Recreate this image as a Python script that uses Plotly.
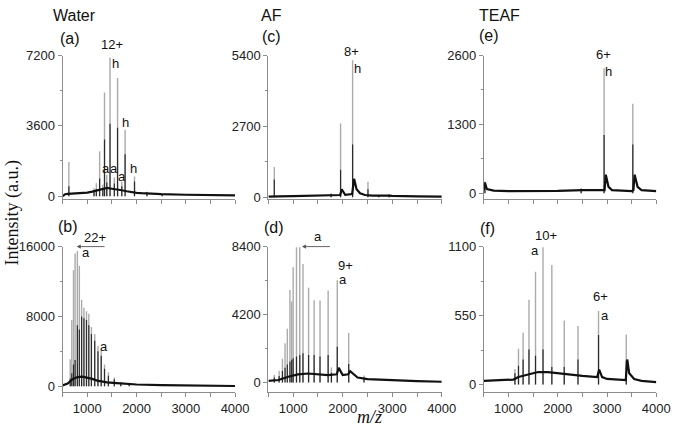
import plotly.graph_objects as go

# ---------------- data ----------------
MZ_TICKS = [1000, 2000, 3000, 4000]
MZ_LABELS = ["1000", "2000", "3000", "4000"]
MZ_MINOR = [500, 1500, 2500, 3500]

COLUMN_TITLES = ["Water", "AF", "TEAF"]
PANEL_LETTERS = ["(a)", "(c)", "(e)", "(b)", "(d)", "(f)"]

# (a) Water, top
a_peak_mz = [625, 1136, 1183, 1250, 1315, 1349, 1395, 1461, 1548, 1614, 1700, 1767, 1958, 2210, 2520]
a_peak_int = [1750, 400, 660, 2300, 600, 5300, 1100, 7100, 950, 6050, 750, 3400, 1000, 220, 130]
a_peak_core = [500, 250, 350, 900, 400, 2900, 700, 3700, 650, 3500, 500, 2150, 750, 180, 100]
a_base_mz = [500, 550, 600, 700, 800, 900, 1000, 1100, 1200, 1300, 1400, 1500, 1600, 1700, 1800, 1900, 2000, 2100, 2300, 2500, 3000, 3500, 4000]
a_base_int = [0, 100, 120, 130, 140, 150, 180, 230, 300, 380, 420, 380, 350, 300, 250, 200, 170, 150, 120, 100, 70, 50, 40]
a_yticks = [0, 3600, 7200]

# (b) Water, bottom
b_peak_mz = [653, 685, 719, 752, 798, 838, 884, 931, 983, 1030, 1083, 1150, 1216, 1282, 1349, 1428, 1548, 1680, 1850]
b_peak_int = [3100, 7600, 13300, 15200, 15500, 13800, 9900, 9000, 8600, 8300, 6800, 6000, 4600, 4200, 2500, 1600, 1000, 500, 300]
b_peak_core = [900, 1500, 2500, 3000, 7000, 6500, 8000, 7800, 7600, 7000, 6000, 5200, 4000, 3500, 2000, 1200, 800, 400, 250]
b_base_mz = [500, 600, 700, 800, 900, 1000, 1100, 1200, 1400, 1600, 1800, 2000, 2500, 3000, 3500, 4000]
b_base_int = [100, 300, 800, 1050, 1100, 1000, 850, 650, 450, 350, 270, 200, 120, 80, 50, 30]
b_yticks = [0, 8000, 16000]

# (c) AF, top
c_peak_mz = [619, 1765, 1957, 2200, 2510, 2728, 2938]
c_peak_int = [1150, 160, 2810, 5220, 590, 90, 120]
c_peak_core = [670, 120, 1040, 2010, 300, 80, 100]
c_base_mz = [500, 600, 700, 1000, 1500, 1800, 1950, 1980, 2050, 2190, 2230, 2280, 2350, 2450, 2600, 2900, 3000, 3500, 4000]
c_base_int = [20, 30, 30, 40, 50, 60, 80, 300, 90, 120, 700, 300, 150, 80, 60, 60, 50, 30, 20]
c_yticks = [0, 2700, 5400]

# (d) AF, bottom
d_peak_mz = [619, 717, 783, 836, 882, 935, 970, 1000, 1067, 1133, 1198, 1311, 1423, 1542, 1706, 1772, 1890, 2121, 2431]
d_peak_int = [460, 720, 1460, 2420, 3320, 5720, 5000, 7120, 8360, 8360, 7320, 5860, 5080, 5060, 5680, 920, 6320, 3060, 420]
d_peak_core = [300, 400, 700, 900, 1100, 1300, 1400, 1500, 1600, 1700, 1800, 1700, 1700, 1600, 1700, 600, 2200, 1140, 300]
d_base_mz = [500, 700, 900, 1100, 1300, 1500, 1700, 1880, 1920, 2000, 2110, 2150, 2300, 2500, 3000, 3500, 4000]
d_base_int = [100, 150, 350, 500, 550, 500, 450, 500, 900, 450, 500, 700, 300, 200, 120, 80, 40]
d_yticks = [0, 4200, 8400]

# (e) TEAF, top
e_peak_mz = [520, 2475, 2940, 3523]
e_peak_int = [220, 100, 2360, 1690]
e_peak_core = [200, 80, 1100, 920]
e_base_mz = [500, 520, 560, 700, 1000, 1500, 2000, 2500, 2900, 2950, 2975, 3030, 3100, 3500, 3535, 3560, 3620, 3700, 4000]
e_base_int = [60, 200, 80, 50, 40, 40, 45, 60, 50, 60, 350, 120, 60, 40, 60, 350, 120, 60, 40]
e_yticks = [0, 1300, 2600]

# (f) TEAF, bottom
f_peak_mz = [1130, 1202, 1296, 1415, 1548, 1700, 1879, 2131, 2410, 2827, 3390]
f_peak_int = [125, 285, 413, 677, 900, 1095, 954, 510, 467, 587, 400]
f_peak_core = [90, 150, 200, 280, 230, 280, 140, 140, 200, 395, 190]
f_base_mz = [500, 1000, 1100, 1200, 1400, 1600, 1800, 2000, 2200, 2500, 2800, 2840, 2900, 3000, 3380, 3410, 3450, 3550, 3700, 4000]
f_base_int = [30, 35, 40, 60, 80, 100, 100, 90, 80, 70, 60, 120, 60, 45, 35, 200, 90, 45, 30, 20]
f_yticks = [0, 550, 1100]

# ---------------- figure ----------------
W, H = 685, 434
GRAY = "#ababab"
DARK = "#2b2b2b"
AXIS = "#8c8c8c"
FONT = "Liberation Sans, Arial, sans-serif"
SERIF = "Liberation Serif, Times New Roman, serif"

panels = [
    # (peaks mz, int, core, base mz, base int, yticks, ymin, x px domain, y px domain, bottom row)
    (a_peak_mz, a_peak_int, a_peak_core, a_base_mz, a_base_int, a_yticks, -150, (64, 240), (50, 198), False),
    (c_peak_mz, c_peak_int, c_peak_core, c_base_mz, c_base_int, c_yticks, -74, (274, 451), (50, 198), False),
    (e_peak_mz, e_peak_int, e_peak_core, e_base_mz, e_base_int, e_yticks, -110, (494, 670), (50, 198), False),
    (b_peak_mz, b_peak_int, b_peak_core, b_base_mz, b_base_int, b_yticks, -670, (64, 240), (247, 397), True),
    (d_peak_mz, d_peak_int, d_peak_core, d_base_mz, d_base_int, d_yticks, -600, (274, 451), (247, 397), True),
    (f_peak_mz, f_peak_int, f_peak_core, f_base_mz, f_base_int, f_yticks, -60, (494, 670), (247, 397), True),
]


def sticks(mz, h):
    xs, ys = [], []
    for m, v in zip(mz, h):
        xs += [m, m, None]
        ys += [0, v, None]
    return xs, ys


fig = go.Figure()
layout = {}
yranges = {}
for i, (pmz, pint, pcore, bmz, bint, yt, ymin, xd, yd, bottom) in enumerate(panels):
    k = i + 1
    xa = "x" if k == 1 else f"x{k}"
    ya = "y" if k == 1 else f"y{k}"
    yranges[k] = (ymin, yt[-1])
    gx, gy = sticks(pmz, pint)
    dx, dy = sticks(pmz, pcore)
    fig.add_trace(go.Scatter(x=gx, y=gy, mode="lines", line=dict(color=GRAY, width=1.4),
                             xaxis=xa, yaxis=ya, showlegend=False, hoverinfo="skip"))
    fig.add_trace(go.Scatter(x=dx, y=dy, mode="lines", line=dict(color=DARK, width=1.2),
                             xaxis=xa, yaxis=ya, showlegend=False, hoverinfo="skip"))
    fig.add_trace(go.Scatter(x=bmz, y=bint, mode="lines", line=dict(color="#111111", width=2.2),
                             xaxis=xa, yaxis=ya, showlegend=False, hoverinfo="skip"))
    layout[f"xaxis{k}" if k > 1 else "xaxis"] = dict(
        domain=[xd[0] / W, xd[1] / W], anchor=ya, range=[500, 4000],
        tickvals=MZ_TICKS, ticktext=MZ_LABELS, showticklabels=bottom,
        ticks="outside", ticklen=4, tickcolor=AXIS, showline=True, linecolor=AXIS, linewidth=1.3,
        minor=dict(ticks="outside", ticklen=4, tickcolor=AXIS, tickvals=MZ_MINOR),
        showgrid=False, zeroline=False, tickfont=dict(family=FONT, size=13, color="#222"),
    )
    layout[f"yaxis{k}" if k > 1 else "yaxis"] = dict(
        domain=[1 - yd[1] / H, 1 - yd[0] / H], anchor=xa, range=[ymin, yt[-1]],
        tickvals=yt, ticktext=[str(v) for v in yt], ticks="outside", ticklen=4, tickcolor=AXIS,
        showline=True, linecolor=AXIS, linewidth=1.3, showgrid=False, zeroline=False,
        minor=dict(ticks="outside", ticklen=2, tickcolor=AXIS, tickvals=[yt[1] / 2, yt[1] * 1.5]),
        tickfont=dict(family=FONT, size=13, color="#222"),
    )

ann = []
# column titles
for t, (cx, cy) in zip(COLUMN_TITLES, [(76, 9), (277, 9), (510, 9)]):
    ann.append(dict(text=t, x=cx / W, y=1 - cy / H, xref="paper", yref="paper", showarrow=False,
                    xanchor="center", yanchor="middle", font=dict(family=FONT, size=16, color="#111")))
# panel letters
for t, (cx, cy) in zip(PANEL_LETTERS, [(71, 32), (277, 30), (499, 29), (69, 226), (280, 227), (498, 228)]):
    ann.append(dict(text=t, x=cx / W, y=1 - cy / H, xref="paper", yref="paper", showarrow=False,
                    xanchor="center", yanchor="middle", font=dict(family=FONT, size=16, color="#111")))

# peak labels: (text, axis index, mz, intensity)
peak_labels = [
    ("12+", 1, 1500, 7750), ("h", 1, 1565, 6800), ("h", 1, 1773, 3770), ("h", 1, 1932, 1440),
    ("a", 1, 1385, 1390), ("a", 1, 1534, 1440), ("a", 1, 1713, 990),
    ("8+", 2, 2185, 5550), ("h", 2, 2295, 4900),
    ("6+", 3, 2925, 2620), ("h", 3, 3035, 2300),
    ("22+", 4, 1150, 17000), ("a", 4, 964, 15300), ("a", 4, 1335, 4550),
    ("a", 5, 1495, 9020), ("9+", 5, 2056, 7250), ("a", 5, 2003, 6350),
    ("10+", 6, 1770, 1185), ("a", 6, 1534, 1070), ("6+", 6, 2873, 700), ("a", 6, 2950, 550),
]
for t, k, mx, my in peak_labels:
    lo, hi = yranges[k]
    ann.append(dict(text=t, x=mx, y=(my - lo) / (hi - lo),
                    xref="x" if k == 1 else f"x{k}", yref=("y" if k == 1 else f"y{k}") + " domain",
                    showarrow=False, xanchor="center", yanchor="middle",
                    font=dict(family=FONT, size=13, color="#111")))

# arrows (head mz, tail mz, intensity, axis index)
arrows = [(784, 1381, 16000, 4), (1178, 1771, 8400, 5)]
for hx, tx, yv, k in arrows:
    xr = f"x{k}"
    yr = f"y{k}"
    ann.append(dict(text="", x=hx, y=yv, ax=tx, ay=yv, xref=xr, yref=yr, axref=xr, ayref=yr,
                    showarrow=True, arrowhead=2, arrowsize=0.9, arrowwidth=0.9, arrowcolor="#555"))

# axis titles
ann.append(dict(text="Intensity (a.u.)", x=13 / W, y=1 - 212 / H, xref="paper", yref="paper",
                showarrow=False, textangle=-90, xanchor="center", yanchor="middle",
                font=dict(family=SERIF, size=18, color="#111")))
ann.append(dict(text="<i>m/z</i>", x=377 / W, y=1 - 423 / H, xref="paper", yref="paper",
                showarrow=False, xanchor="center", yanchor="middle",
                font=dict(family=SERIF, size=18, color="#111")))

fig.update_layout(width=W, height=H, margin=dict(l=0, r=0, t=0, b=0),
                  paper_bgcolor="white", plot_bgcolor="white", annotations=ann, **layout)

fig.write_html("out.html", config={"displayModeBar": False},
               post_script="document.body.style.margin='0';document.body.style.overflow='hidden';")
